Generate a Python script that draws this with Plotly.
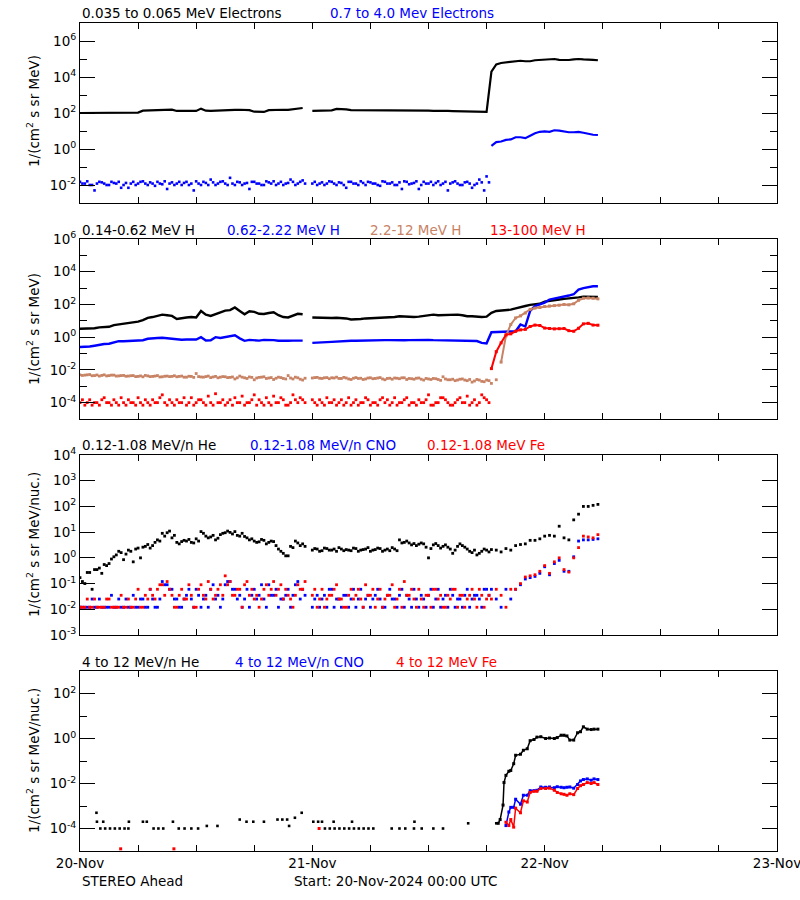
import pandas as pd
import plotly.graph_objects as go
from plotly.subplots import make_subplots

START = pd.Timestamp("2024-11-20 00:00")
N = 108  # half-hour samples, 20-Nov 00:00 .. 22-Nov 05:30
grid_times = [START + pd.Timedelta(minutes=30 * i) for i in range(N)]
NB = 85  # quarter-past samples of the quiet background, 00:15 .. 42:15
bg_times = [START + pd.Timedelta(minutes=15 + 30 * i) for i in range(NB)]

# ---------------- Panel 1: electrons ----------------
e_lo = [100, 100, 98, 100, 102, 100, 98, 100, 100, 102,
        100, 105, 105, 135, 140, 140, 145, 150, 160, 155,
        130, 130, 128, 132, 130, 175, 135, 130, 135, 132,
        150, 150, 148, 152, 150, 145, 118, 112, 115, 145,
        150, 148, 152, 150, 160, 185, 190, None, 130, 132,
        135, 135, 140, 170, 168, 160, 145, 145, 142, 140,
        145, 148, 145, 142, 145, 140, 142, 140, 145, 140,
        138, 140, 135, 132, 135, 130, 130, 128, 125, 120,
        118, 115, 112, 110, 115, 2.0e4, 5.0e4, 6.0e4, 6.5e4, 7.0e4,
        7.2e4, 8.0e4, 7.5e4, 7.5e4, 8.5e4, 9.0e4, 9.5e4, 1.0e5, 1.0e5, 9.0e4,
        8.5e4, 8.8e4, 9.5e4, 1.0e5, 9.5e4, 9.5e4, 9.0e4, 8.5e4]
e_hi = [0.015, 0.012, 0.010, 0.005, 0.015, 0.012, 0.010, 0.013, 0.015, 0.010,
        0.007, 0.015, 0.012, 0.016, 0.010, 0.012, 0.015, 0.011, 0.006, 0.014,
        0.012, 0.010, 0.015, 0.012, 0.016, 0.010, 0.013, 0.020, 0.010, 0.015,
        0.012, 0.025, 0.010, 0.014, 0.012, 0.006, 0.015, 0.012, 0.010, 0.014,
        0.016, 0.012, 0.010, 0.013, 0.015, 0.012, 0.018, None, 0.012, 0.010,
        0.014, 0.012, 0.015, 0.010, 0.013, 0.007, 0.015, 0.012, 0.016, 0.010,
        0.014, 0.012, 0.009, 0.015, 0.012, 0.010, 0.014, 0.016, 0.011, 0.013,
        0.006, 0.015, 0.012, 0.010, 0.016, 0.012, 0.005, 0.014, 0.012, 0.010,
        0.015, 0.007, 0.012, 0.014, 0.030, 1.5, 2.4, 2.6, 3.2, 3.4,
        4.5, 4.5, 4.0, 5.5, 7.5, 9.0, 9.5, 9.0, 11, 10.5,
        9.0, 8.5, 8.5, 9.0, 8.0, 6.8, 6.2, 6.0]
e_hi_b = [0.012, 0.016, 0.010, 0.012, 0.014, 0.010, 0.015, 0.012, 0.007, 0.013,
          0.012, 0.010, 0.015, 0.012, 0.014, 0.009, 0.012, 0.016, 0.012, 0.010,
          0.015, 0.013, 0.010, 0.005, 0.012, 0.015, 0.010, 0.014, 0.012, 0.016,
          0.010, 0.012, 0.015, 0.010, 0.013, 0.015, 0.012, 0.010, 0.016, 0.012,
          0.010, 0.015, 0.012, 0.020, 0.010, 0.015, 0.012, None, 0.015, 0.012,
          0.010, 0.016, 0.012, 0.014, 0.010, 0.015, 0.012, 0.010, 0.013, 0.015,
          0.012, 0.010, 0.016, 0.012, 0.014, 0.010, 0.006, 0.015, 0.012, 0.016,
          0.010, 0.012, 0.015, 0.013, 0.010, 0.015, 0.012, 0.016, 0.010, 0.014,
          0.012, 0.010, 0.020, 0.005, 0.014]

# ---------------- Panel 2: protons ----------------
h1 = [3.3, 3.4, 3.3, 3.5, 4.0, 4.2, 4.3, 5.5, 6.0, 6.5,
      7.5, 8.3, 9.0, 11, 15, 17, 20, 24, 22, 20,
      13, 15, 16, 17, 16, 40, 24, 20, 26, 35,
      42, 45, 65, 40, 25, 38, 35, 27, 26, 30,
      33, 22, 17, 16, 20, 27, 25, None, 16, 15.5,
      15, 16, 15, 15.5, 15, 14, 12, 12, 13, 14,
      15, 15, 15.5, 16, 16, 17, 19, 18, 17, 17,
      18, 20, 22, 24, 22, 23, 24, 25, 24, 22,
      19, 19, 18, 17, 18, 31, 40, 43, 45, 48,
      58, 65, 80, 95, 105, 110, 150, 160, 175, 200,
      220, 230, 240, 270, 300, 300, 300, 290]
h2 = [0.25, 0.25, 0.27, 0.30, 0.35, 0.38, 0.40, 0.50, 0.57, 0.57,
      0.60, 0.62, 0.63, 0.65, 0.80, 0.88, 0.90, 0.92, 0.85, 0.80,
      0.72, 0.70, 0.72, 0.75, 0.72, 1.0, 0.63, 0.65, 1.0, 0.90,
      1.05, 1.10, 1.3, 0.85, 0.60, 0.68, 0.65, 0.62, 0.68, 0.70,
      0.66, 0.60, 0.58, 0.60, 0.62, 0.60, 0.62, None, 0.45, 0.48,
      0.50, 0.50, 0.52, 0.55, 0.58, 0.60, 0.60, 0.60, 0.62, 0.60,
      0.62, 0.62, 0.65, 0.66, 0.66, 0.68, 0.66, 0.65, 0.66, 0.68,
      0.66, 0.65, 0.68, 0.66, 0.65, 0.66, 0.64, 0.66, 0.62, 0.60,
      0.60, 0.62, 0.58, 0.45, 0.42, 2.0, 2.1, 2.1, 2.2, 2.2,
      2.3, 6.0, 4.5, 40, 80, 100, 130, 200, 230, 240,
      300, 350, 420, 800, 1000, 1200, 1300, 1300]
h3 = [5.0e-3, 4.8e-3, 5.2e-3, 4.5e-3, 4.2e-3, 5.0e-3, 4.5e-3, 4.8e-3, 4.3e-3, 4.6e-3,
      4.2e-3, 4.5e-3, 4.0e-3, 3.8e-3, 4.3e-3, 4.0e-3, 4.5e-3, 3.8e-3, 4.2e-3, 4.0e-3,
      3.8e-3, 4.2e-3, 3.6e-3, 4.0e-3, 6.0e-3, 3.7e-3, 3.9e-3, 3.4e-3, 4.0e-3, 3.6e-3,
      3.8e-3, 3.5e-3, 2.8e-3, 4.2e-3, 3.3e-3, 3.7e-3, 2.5e-3, 3.5e-3, 3.8e-3, 3.2e-3,
      2.6e-3, 3.6e-3, 3.0e-3, 4.5e-3, 2.8e-3, 3.3e-3, 2.4e-3, None, 3.2e-3, 3.5e-3,
      3.0e-3, 3.4e-3, 3.3e-3, 3.6e-3, 3.0e-3, 3.2e-3, 2.6e-3, 3.4e-3, 3.1e-3, 2.8e-3,
      3.3e-3, 3.0e-3, 3.4e-3, 2.5e-3, 3.1e-3, 3.2e-3, 2.9e-3, 3.3e-3, 3.0e-3, 2.7e-3,
      3.2e-3, 2.4e-3, 2.8e-3, 3.0e-3, 2.6e-3, 3.8e-3, 2.5e-3, 2.7e-3, 2.4e-3, 2.8e-3,
      2.2e-3, 1.8e-3, 2.6e-3, 2.0e-3, 2.4e-3, 1.5e-3, 2.5e-3, 3.0e-2, 1.2, 6.0,
      15, 20, 30, 50, 60, 65, 75, 80, 85, 90,
      100, 95, 110, 180, 240, 250, 240, 220]
h3_b = [4.6e-3, 5.0e-3, 4.4e-3, 4.9e-3, 4.6e-3, 4.3e-3, 4.8e-3, 4.2e-3, 4.5e-3, 4.1e-3,
        4.4e-3, 3.9e-3, 4.3e-3, 4.6e-3, 3.9e-3, 4.2e-3, 3.7e-3, 4.1e-3, 3.9e-3, 4.4e-3,
        4.0e-3, 3.6e-3, 4.1e-3, 3.5e-3, 3.9e-3, 3.6e-3, 4.2e-3, 3.7e-3, 3.3e-3, 3.9e-3,
        3.4e-3, 3.7e-3, 3.3e-3, 3.6e-3, 3.0e-3, 3.5e-3, 3.2e-3, 3.6e-3, 3.0e-3, 3.4e-3,
        3.1e-3, 3.4e-3, 2.8e-3, 3.2e-3, 3.6e-3, 2.7e-3, 3.1e-3, None, 3.4e-3, 3.1e-3,
        3.3e-3, 2.9e-3, 3.2e-3, 3.0e-3, 3.5e-3, 2.8e-3, 3.1e-3, 3.0e-3, 2.6e-3, 3.2e-3,
        2.9e-3, 3.2e-3, 2.8e-3, 3.0e-3, 2.7e-3, 3.1e-3, 3.3e-3, 2.6e-3, 2.9e-3, 3.1e-3,
        2.7e-3, 3.0e-3, 2.6e-3, 2.9e-3, 2.3e-3, 2.8e-3, 2.5e-3, 2.2e-3, 2.7e-3, 2.4e-3,
        2.6e-3, 2.1e-3, 2.4e-3, 1.9e-3, 2.2e-3]
h4 = [1.0e-4, 7e-5, 1.5e-4, 1.0e-4, 7e-5, 2e-4, 1.0e-4, 1.5e-4, 7e-5, 1.0e-4,
      1.5e-4, 1.0e-4, 2e-4, 7e-5, 1.0e-4, 1.5e-4, 1.0e-4, 3e-4, 7e-5, 1.0e-4,
      1.5e-4, 1.0e-4, 7e-5, 2e-4, 1.0e-4, 1.5e-4, 7e-5, 1.0e-4, 3.5e-4, 1.0e-4,
      7e-5, 1.5e-4, 2e-4, 1.0e-4, 7e-5, 1.0e-4, 3e-4, 1.5e-4, 7e-5, 1.0e-4,
      2.5e-4, 1.0e-4, 1.5e-4, 7e-5, 3e-4, 1.0e-4, 1.5e-4, None, 1.5e-4, 7e-5,
      1.0e-4, 2e-4, 1.0e-4, 7e-5, 1.5e-4, 1.0e-4, 7e-5, 1.5e-4, 1.0e-4, 2e-4,
      7e-5, 1.0e-4, 1.5e-4, 1.0e-4, 7e-5, 2e-4, 1.0e-4, 1.5e-4, 7e-5, 1.0e-4,
      1.5e-4, 1.0e-4, 3e-4, 7e-5, 1.0e-4, 2e-4, 1.0e-4, 7e-5, 1.5e-4, 1.0e-4,
      2.5e-4, 1.0e-4, 7e-5, 3e-4, 1.5e-4, 1.2e-2, 0.13, 0.45, 1.4, 1.6,
      2.3, 2.8, 3.0, 4.5, 5.5, 5.2, 3.6, 3.4, 3.2, 3.3,
      3.4, 2.5, 2.3, 3.5, 6.5, 7.0, 5.5, 5.4]
h4_b = [1.5e-4, 1.0e-4, 7e-5, 1.0e-4, 1.5e-4, 1.0e-4, 7e-5, 1.0e-4, 2e-4, 7e-5,
        1.0e-4, 7e-5, 1.0e-4, 1.5e-4, 7e-5, 1.0e-4, 2e-4, 1.0e-4, 1.5e-4, 7e-5,
        1.0e-4, 2e-4, 1.0e-4, 7e-5, 1.5e-4, 1.0e-4, 2.5e-4, 7e-5, 1.0e-4, 1.5e-4,
        1.0e-4, 7e-5, 1.0e-4, 2.5e-4, 1.0e-4, 1.5e-4, 7e-5, 1.0e-4, 2e-4, 7e-5,
        1.0e-4, 2e-4, 7e-5, 1.0e-4, 1.5e-4, 2e-4, 1.0e-4, None, 1.0e-4, 1.5e-4,
        7e-5, 1.0e-4, 1.5e-4, 1.0e-4, 7e-5, 2e-4, 1.0e-4, 7e-5, 1.0e-4, 1.5e-4,
        1.0e-4, 7e-5, 2e-4, 1.5e-4, 1.0e-4, 7e-5, 1.0e-4, 2e-4, 1.0e-4, 7e-5,
        1.0e-4, 1.5e-4, 7e-5, 1.0e-4, 2e-4, 1.5e-4, 7e-5, 1.0e-4, 2e-4, 1.0e-4,
        7e-5, 1.5e-4, 1.0e-4, 2e-4, 1.0e-4]

# ---------------- Panel 3: low-energy heavy ions ----------------
he_lo = [0.17, 0.10, 0.27, 0.35, 0.40, 0.55, 0.60, 1.1, 1.8, 0.85,
         2.0, 0.7, 2.4, 2.6, 3.3, 3.0, 5.0, 9.0, 9.5, 6.0,
         4.0, 4.3, 4.5, 4.0, 5.5, 10.5, 7.0, 6.5, 5.0, 8.0,
         9.5, 9.8, 10.5, 7.0, 6.8, 5.0, 4.5, 4.2, 4.8, 4.0,
         4.3, 2.2, 1.5, 1.2, 2.5, 3.8, 3.5, None, 2.0, 2.2,
         1.9, 2.3, 2.0, 1.8, 2.2, 2.1, 1.9, 2.3, 2.0, 2.2,
         1.8, 2.1, 2.3, 2.0, 1.9, 2.2, 5.0, 4.0, 3.8, 3.6,
         3.4, 3.5, 1.0, 3.2, 3.0, 2.8, 2.6, 1.5, 2.8, 3.0,
         2.2, 1.6, 1.3, 1.8, 2.0, 2.1, 2.0, 1.7, 2.3, 2.0,
         3.0, 3.3, 3.5, 4.8, 4.8, 5.5, 7.0, 7.5, 7.0, 17,
         6.0, 5.0, 30, 50, 100, 100, 110, 120]
he_lo_b = [0.12, 0.27, 0.06, 0.35, 0.25, 0.5, 0.9, 1.3, 1.6, 1.4,
           1.8, 2.2, 1.0, 2.8, 2.4, 4.0, 4.5, 7.0, 11, 7.5,
           3.5, 4.8, 5.2, 3.8, 4.5, 9.0, 6.0, 7.5, 5.8, 9.0,
           11, 8.5, 7.5, 9.0, 6.0, 5.5, 4.0, 5.2, 3.5, 4.5,
           3.0, 1.8, 1.2, 2.8, 4.5, 3.0, 2.8, None, 2.3, 1.8,
           2.4, 2.0, 2.2, 2.5, 1.9, 2.0, 2.4, 1.8, 2.1, 2.5,
           2.0, 2.4, 1.8, 2.2, 2.5, 1.9, 3.8, 4.5, 3.2, 3.0,
           3.8, 2.6, 2.3, 3.6, 2.4, 3.2, 2.2, 2.0, 3.5, 2.6,
           1.8, 2.0, 1.5, 2.2, 1.7]
cno_lo = [0.012, 0.012, 0.012, 0.012, 0.025, 0.012, 0.012, 0.012, 0.025, 0.012,
          0.012, 0.035, 0.012, 0.025, 0.012, 0.025, 0.012, 0.12, 0.09, 0.06,
          0.025, 0.012, 0.035, 0.025, 0.06, 0.012, 0.035, 0.06, 0.025, 0.012,
          0.09, 0.12, 0.06, 0.035, 0.025, 0.012, 0.06, 0.035, 0.025, 0.09,
          0.035, 0.012, 0.025, 0.06, 0.035, 0.12, 0.06, None, 0.012, 0.035,
          0.025, 0.012, 0.06, 0.025, 0.012, 0.035, 0.025, 0.012, 0.06, 0.025,
          0.012, 0.035, 0.025, 0.012, 0.06, 0.025, 0.035, 0.012, 0.025, 0.06,
          0.012, 0.025, 0.035, 0.012, 0.06, 0.025, 0.012, 0.035, 0.025, 0.012,
          0.06, 0.025, 0.035, 0.012, 0.06, 0.06, 0.025, 0.012, 0.06, 0.025,
          0.06, 0.09, 0.15, 0.17, 0.19, 0.25, 0.45, 0.22, 0.6, 0.8,
          0.3, 0.3, 1.1, 4.5, 5.0, 5.0, 5.2, 5.5]
cno_lo_b = [0.012, 0.012, 0.025, 0.012, 0.012, 0.012, 0.035, 0.012, 0.012, 0.025,
            0.012, 0.012, 0.025, 0.012, 0.06, 0.012, 0.025, 0.09, 0.06, 0.025,
            0.012, 0.025, 0.06, 0.012, 0.035, 0.025, 0.012, 0.09, 0.035, 0.025,
            0.12, 0.06, 0.025, 0.012, 0.06, 0.035, 0.025, 0.09, 0.012, 0.035,
            0.06, 0.025, 0.035, 0.012, 0.09, 0.025, 0.035, None, 0.025, 0.012,
            0.035, 0.06, 0.012, 0.025, 0.035, 0.012, 0.06, 0.025, 0.012, 0.035,
            0.025, 0.06, 0.012, 0.035, 0.025, 0.012, 0.06, 0.035, 0.012, 0.025,
            0.035, 0.012, 0.06, 0.025, 0.012, 0.035, 0.06, 0.012, 0.025, 0.035,
            0.012, 0.035, 0.025, 0.06, 0.035]
fe_lo = [0.012, 0.012, 0.012, 0.025, 0.012, 0.012, 0.025, 0.012, 0.012, 0.012,
         0.025, 0.012, 0.06, 0.012, 0.025, 0.035, 0.06, 0.09, 0.12, 0.035,
         0.012, 0.06, 0.025, 0.035, 0.012, 0.09, 0.025, 0.06, 0.035, 0.09,
         0.2, 0.12, 0.035, 0.06, 0.09, 0.035, 0.025, 0.012, 0.06, 0.035,
         0.12, 0.06, 0.025, 0.035, 0.012, 0.09, 0.06, None, 0.035, 0.012,
         0.06, 0.025, 0.035, 0.09, 0.025, 0.012, 0.06, 0.035, 0.025, 0.09,
         0.035, 0.012, 0.06, 0.025, 0.035, 0.012, 0.06, 0.12, 0.035, 0.025,
         0.06, 0.012, 0.035, 0.06, 0.025, 0.012, 0.035, 0.06, 0.012, 0.035,
         0.025, 0.06, 0.012, 0.035, 0.025, 0.025, 0.06, 0.035, 0.012, 0.06,
         0.06, 0.1, 0.18, 0.2, 0.22, 0.3, 0.5, 0.25, 0.7, 1.0,
         0.35, 0.28, 1.0, 2.5, 7.0, 6.5, 6.0, 8.0]
fe_lo_b = [0.012, 0.025, 0.012, 0.012, 0.012, 0.025, 0.012, 0.012, 0.035, 0.012,
           0.012, 0.025, 0.012, 0.035, 0.06, 0.025, 0.09, 0.035, 0.06, 0.012,
           0.035, 0.025, 0.09, 0.012, 0.06, 0.035, 0.12, 0.025, 0.06, 0.035,
           0.09, 0.035, 0.06, 0.012, 0.12, 0.06, 0.035, 0.025, 0.09, 0.06,
           0.035, 0.09, 0.06, 0.025, 0.035, 0.06, 0.12, None, 0.06, 0.025,
           0.012, 0.035, 0.06, 0.025, 0.012, 0.035, 0.025, 0.06, 0.012, 0.035,
           0.06, 0.025, 0.012, 0.035, 0.09, 0.025, 0.012, 0.035, 0.06, 0.012,
           0.025, 0.035, 0.012, 0.06, 0.035, 0.012, 0.025, 0.06, 0.035, 0.012,
           0.035, 0.025, 0.06, 0.012, 0.035]

# ---------------- Panel 4: high-energy heavy ions ----------------
he_hi_bg_hours = [1.7, 1.75, 2.1, 2.4, 2.6, 3.1, 3.6, 4.1, 4.6, 5.0,
                  5.05, 6.5, 6.9, 7.6, 8.1, 8.6, 9.6, 10.2, 10.8, 11.5,
                  12.2, 13.1, 14.2, 16.5, 17.2, 17.9, 19.0, 20.4, 20.9, 21.4,
                  21.6, 22.2, 22.9, 24.1, 24.6, 25.0, 25.3, 25.8, 26.2, 26.3,
                  26.8, 27.3, 27.8, 28.1, 28.3, 28.8, 29.3, 29.8, 30.3, 32.2,
                  33.0, 33.6, 34.5, 34.55, 35.3, 36.5, 37.5, 40.1, 43.0]
he_hi_bg = [5e-4, 2e-4, 1e-4, 2e-4, 1e-4, 1e-4, 1e-4, 1e-4, 1e-4, 1e-4,
            2e-4, 2e-4, 2e-4, 1e-4, 1e-4, 1e-4, 2e-4, 1e-4, 1e-4, 1e-4,
            1e-4, 1.3e-4, 1.3e-4, 2.5e-4, 2e-4, 2e-4, 2e-4, 2.5e-4, 2.5e-4, 2.5e-4,
            1.3e-4, 3e-4, 5e-4, 2e-4, 2e-4, 2e-4, 1e-4, 1e-4, 2e-4, 1e-4,
            1e-4, 1e-4, 1e-4, 2e-4, 1e-4, 1e-4, 1e-4, 1e-4, 1e-4, 1e-4,
            1e-4, 1e-4, 1e-4, 2e-4, 1e-4, 1e-4, 1e-4, 1.7e-4, 1.7e-4]
he_hi_ev_hours = [43.2, 43.4, 43.7, 43.8, 44.0, 44.3, 44.5, 44.8, 45.0, 45.5,
                  45.8, 46.2, 46.5, 46.9, 47.2, 47.6, 48.1, 48.5, 49.0, 49.3,
                  49.7, 50.0, 50.3, 50.6, 51.0, 51.4, 51.7, 52.0, 52.4, 52.8,
                  53.1, 53.5]
he_hi_ev = [1.7e-4, 2.5e-4, 1.1e-3, 1.1e-2, 0.023, 0.035, 0.038, 0.076, 0.18, 0.2,
            0.3, 0.35, 0.8, 0.9, 1.15, 1.2, 1.0, 1.05, 1.0, 1.1,
            1.4, 1.4, 1.3, 0.85, 0.85, 1.8, 2.0, 3.3, 2.6, 2.5,
            2.6, 2.6]
hvy_hi_hours = [44.0, 44.3, 44.5, 44.8, 45.0, 45.5, 45.8, 46.2, 46.5, 46.9,
                47.2, 47.6, 48.1, 48.5, 49.0, 49.3, 49.7, 50.0, 50.3, 50.6,
                51.0, 51.4, 51.7, 52.0, 52.4, 52.8, 53.1, 53.5]
cno_hi = [1.35e-4, 5.4e-4, 8.7e-4, 8.7e-4, 2e-3, 1.2e-3, 3e-3, 3e-3, 4.8e-3, 4.8e-3,
          5e-3, 7e-3, 6.8e-3, 7e-3, 6.5e-3, 7.2e-3, 6.8e-3, 6.5e-3, 6.8e-3, 7e-3,
          6.2e-3, 9e-3, 1.3e-2, 1.5e-2, 1.6e-2, 1.4e-2, 1.6e-2, 1.5e-2]
fe_hi = [1.9e-4, 1.35e-4, 2.5e-4, 1.15e-4, 8e-4, 5e-4, 1.7e-3, 1.5e-3, 4e-3, 4.5e-3,
         4.5e-3, 6e-3, 6e-3, 6.2e-3, 5e-3, 4e-3, 3.5e-3, 3.3e-3, 3.0e-3, 3.5e-3,
         3.2e-3, 6e-3, 8e-3, 9e-3, 1.1e-2, 1.0e-2, 1.1e-2, 9e-3]
fe_hi_bg_hours = [4.2, 9.7, 24.7]
fe_hi_bg = [1.25e-5, 1.25e-5, 1e-4]

# ---------------- axis tick labels ----------------
x_tick_labels = ["20-Nov", "21-Nov", "22-Nov", "23-Nov"]
p1_major = [1e6, 1e4, 1e2, 1, 1e-2]
p1_labels = ["10<sup>6</sup>", "10<sup>4</sup>", "10<sup>2</sup>", "10<sup>0</sup>", "10<sup>-2</sup>"]
p1_minor = [1e5, 1e3, 10, 0.1]
p2_major = [1e6, 1e4, 1e2, 1, 1e-2, 1e-4]
p2_labels = ["10<sup>6</sup>", "10<sup>4</sup>", "10<sup>2</sup>", "10<sup>0</sup>", "10<sup>-2</sup>", "10<sup>-4</sup>"]
p2_minor = [1e5, 1e3, 10, 0.1, 1e-3]
p3_major = [1e4, 1e3, 1e2, 10, 1, 0.1, 1e-2, 1e-3]
p3_labels = ["10<sup>4</sup>", "10<sup>3</sup>", "10<sup>2</sup>", "10<sup>1</sup>", "10<sup>0</sup>",
             "10<sup>-1</sup>", "10<sup>-2</sup>", "10<sup>-3</sup>"]
p4_major = [1e2, 1, 1e-2, 1e-4]
p4_labels = ["10<sup>2</sup>", "10<sup>0</sup>", "10<sup>-2</sup>", "10<sup>-4</sup>"]
p4_minor = [10, 0.1, 1e-3]

BLACK, BLUE, SIENNA, RED = "#000000", "#0000FF", "rgb(200,130,100)", "#FF0000"
FONT = "DejaVu Sans"
TSIZE = 13.5
EV = 85      # first sample of the event for electrons / protons
EV_H3 = 87


def hours_to_times(hours):
    return [START + pd.Timedelta(hours=h) for h in hours]


fig = make_subplots(rows=4, cols=1, vertical_spacing=36 / 828)


def add(row, x, y, color, mode, size=2.6, width=2.0):
    fig.add_trace(go.Scatter(
        x=x, y=y, mode=mode, showlegend=False, hoverinfo="skip", connectgaps=False,
        marker=dict(color=color, size=size, symbol="square", line=dict(width=0)),
        line=dict(color=color, width=width)), row=row, col=1)


# panel 1
add(1, grid_times, e_lo, BLACK, "lines", width=2.2)
add(1, grid_times[:EV], e_hi[:EV], BLUE, "markers")
add(1, bg_times, e_hi_b, BLUE, "markers")
add(1, grid_times[EV:], e_hi[EV:], BLUE, "lines", width=2.2)
# panel 2
add(2, grid_times, h1, BLACK, "lines", width=2.4)
add(2, grid_times, h2, BLUE, "lines", width=2.4)
add(2, grid_times[:EV_H3], h3[:EV_H3], SIENNA, "markers", size=2.8)
add(2, bg_times, h3_b, SIENNA, "markers", size=2.8)
add(2, grid_times[EV_H3:], h3[EV_H3:], SIENNA, "lines+markers", size=3, width=2)
add(2, grid_times[:EV], h4[:EV], RED, "markers", size=2.8)
add(2, bg_times, h4_b, RED, "markers", size=2.8)
add(2, grid_times[EV:], h4[EV:], RED, "lines+markers", size=3, width=2)
# panel 3
add(3, grid_times, he_lo, BLACK, "markers", size=2.8)
add(3, bg_times, he_lo_b, BLACK, "markers", size=2.8)
add(3, grid_times, cno_lo, BLUE, "markers", size=2.8)
add(3, bg_times, cno_lo_b, BLUE, "markers", size=2.8)
add(3, grid_times, fe_lo, RED, "markers", size=2.8)
add(3, bg_times, fe_lo_b, RED, "markers", size=2.8)
# panel 4
add(4, hours_to_times(he_hi_bg_hours), he_hi_bg, BLACK, "markers", size=2.6)
add(4, hours_to_times(he_hi_ev_hours), he_hi_ev, BLACK, "lines+markers", size=3, width=1.5)
add(4, hours_to_times(hvy_hi_hours), cno_hi, BLUE, "lines+markers", size=3, width=1.5)
add(4, hours_to_times(hvy_hi_hours), fe_hi, RED, "lines+markers", size=3, width=1.5)
add(4, hours_to_times(fe_hi_bg_hours), fe_hi_bg, RED, "markers", size=3)

tickfont = dict(family=FONT, size=TSIZE, color="black")
day_ticks = [START + pd.Timedelta(days=k) for k in range(4)]

for r in range(1, 5):
    fig.update_xaxes(
        type="date", range=[START, START + pd.Timedelta(days=3)],
        tickvals=day_ticks, ticktext=x_tick_labels, showticklabels=(r == 4),
        ticklabeloverflow="allow",
        ticks="inside", ticklen=6, tickcolor="black", tickwidth=1,
        minor=dict(dtick=6 * 3600 * 1000, tick0=START, ticks="inside", ticklen=6,
                   tickcolor="black", tickwidth=1, showgrid=False),
        showline=True, linecolor="black", linewidth=1, mirror="ticks",
        showgrid=False, zeroline=False, automargin=False, tickfont=tickfont,
        row=r, col=1)

yspecs = [
    (1, [-3, 7], p1_major, p1_labels, p1_minor),
    (2, [-5, 6], p2_major, p2_labels, p2_minor),
    (3, [-3, 4], p3_major, p3_labels, []),
    (4, [-5, 3], p4_major, p4_labels, p4_minor),
]
for r, rng, major, labels, minor in yspecs:
    fig.update_yaxes(
        type="log", range=rng, tickvals=major, ticktext=labels,
        ticklabeloverflow="allow",
        ticks="inside", ticklen=15, tickcolor="black", tickwidth=1,
        minor=dict(tickvals=minor, ticks="inside", ticklen=7, tickcolor="black",
                   tickwidth=1, showgrid=False),
        showline=True, linecolor="black", linewidth=1, mirror="ticks",
        showgrid=False, zeroline=False, automargin=False, tickfont=tickfont,
        row=r, col=1)

PLOT_L, PLOT_W, PLOT_B, PLOT_H = 80, 697, 851, 828


def px(x):
    return (x - PLOT_L) / PLOT_W


def py(y):
    return (PLOT_B - y) / PLOT_H


annots = []
titles = [
    (13, [(80, "0.035 to 0.065 MeV Electrons", BLACK), (328, "0.7 to 4.0 Mev Electrons", BLUE)]),
    (229.5, [(80, "0.14-0.62 MeV H", BLACK), (225, "0.62-2.22 MeV H", BLUE),
             (368, "2.2-12 MeV H", SIENNA), (488, "13-100 MeV H", RED)]),
    (445, [(80, "0.12-1.08 MeV/n He", BLACK), (248, "0.12-1.08 MeV/n CNO", BLUE),
           (425, "0.12-1.08 MeV Fe", RED)]),
    (662, [(80, "4 to 12 MeV/n He", BLACK), (233, "4 to 12 MeV/n CNO", BLUE),
           (394, "4 to 12 MeV Fe", RED)]),
]
for ypix, segs in titles:
    for xpix, txt, col in segs:
        annots.append(dict(x=px(xpix), y=py(ypix), xref="paper", yref="paper",
                           text=txt, showarrow=False, xanchor="left", yanchor="middle",
                           font=dict(family=FONT, size=TSIZE, color=col)))

ytitles = [(111, "1/(cm<sup>2</sup> s sr MeV)"), (329, "1/(cm<sup>2</sup> s sr MeV)"),
           (545, "1/(cm<sup>2</sup> s sr MeV/nuc.)"), (761, "1/(cm<sup>2</sup> s sr MeV/nuc.)")]
for ypix, txt in ytitles:
    annots.append(dict(x=px(33), y=py(ypix), xref="paper", yref="paper", text=txt,
                       showarrow=False, textangle=-90, xanchor="center", yanchor="middle",
                       font=dict(family=FONT, size=TSIZE, color="black")))

annots.append(dict(x=px(80), y=py(881), xref="paper", yref="paper", text="STEREO Ahead",
                   showarrow=False, xanchor="left", yanchor="middle",
                   font=dict(family=FONT, size=TSIZE, color="black")))
annots.append(dict(x=px(292), y=py(881), xref="paper", yref="paper",
                   text="Start: 20-Nov-2024 00:00 UTC",
                   showarrow=False, xanchor="left", yanchor="middle",
                   font=dict(family=FONT, size=TSIZE, color="black")))

fig.update_layout(
    width=800, height=900, autosize=False,
    margin=dict(l=80, r=23, t=23, b=49),
    paper_bgcolor="white", plot_bgcolor="white",
    font=dict(family=FONT, size=TSIZE, color="black"),
    annotations=annots, showlegend=False,
)

fig.write_html("out.html", config={"displayModeBar": False},
               post_script="document.body.style.margin='0px';document.body.style.padding='0px';")
